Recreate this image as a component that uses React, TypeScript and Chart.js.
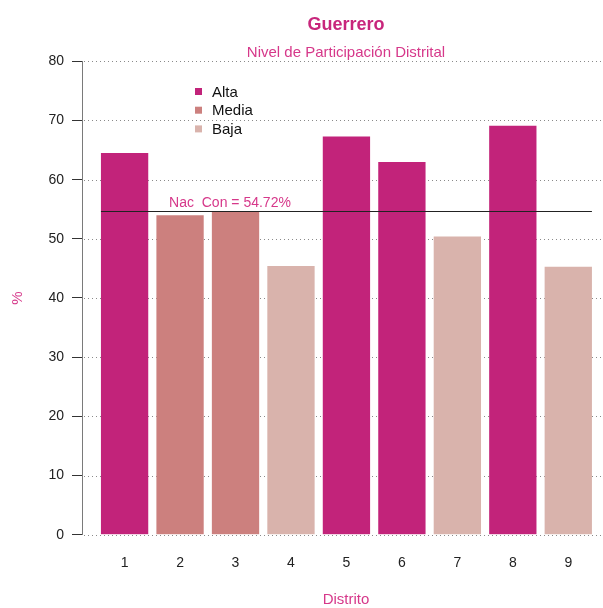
import React, { useEffect, useRef } from "react";
import { Chart, registerables } from "chart.js";

Chart.register(...registerables);

const districts = ["1", "2", "3", "4", "5", "6", "7", "8", "9"];
const participation = [64.5, 54.0, 54.7, 45.4, 67.3, 63.0, 50.4, 69.1, 45.3];
const levels = ["Alta", "Media", "Media", "Baja", "Alta", "Alta", "Baja", "Alta", "Baja"];
const legendLabels = ["Alta", "Media", "Baja"];
const levelColors: Record<string, string> = { Alta: "#C2237A", Media: "#CC807E", Baja: "#D9B3AC" };
const yMin = 0;
const yMax = 80;
const yStep = 10;
const nationalValue = 54.72;
const nationalLabel = "Nac  Con = 54.72%";
const nationalLabelAt = 2.9;
const titleText = "Guerrero";
const subtitleText = "Nivel de Participación Distrital";
const xTitle = "Distrito";
const yTitle = "%";

const FONT = "'Liberation Sans', Arial, Helvetica, sans-serif";
const PINK = "#C8267C";
const PINK2 = "#D6388A";
const BAR_FRAC = 0.853;

export default function App() {
  const ref = useRef<HTMLCanvasElement>(null);

  useEffect(() => {
    const canvas = ref.current;
    if (!canvas) return;

    const decor = {
      id: "decor",
      beforeDatasetsDraw(chart: any) {
        const { ctx, chartArea, scales } = chart;
        const y = scales.y;
        ctx.save();
        ctx.strokeStyle = "#8a8a8a";
        ctx.lineWidth = 1;
        ctx.setLineDash([1, 3]);
        for (let v = yMin; v <= yMax; v += yStep) {
          const py = Math.round(y.getPixelForValue(v)) + 0.5;
          ctx.beginPath();
          ctx.moveTo(chartArea.left + 2, py);
          ctx.lineTo(chart.width, py);
          ctx.stroke();
        }
        ctx.restore();
      },
      afterDatasetsDraw(chart: any) {
        const { ctx, scales } = chart;
        const x = scales.x;
        const y = scales.y;
        const py = y.getPixelForValue(nationalValue);
        const x0 = x.getPixelForValue(1 - BAR_FRAC / 2);
        const x1 = x.getPixelForValue(districts.length + BAR_FRAC / 2);
        ctx.save();
        ctx.strokeStyle = "#222";
        ctx.lineWidth = 1;
        ctx.beginPath();
        ctx.moveTo(x0, Math.round(py) + 0.5);
        ctx.lineTo(x1, Math.round(py) + 0.5);
        ctx.stroke();
        ctx.fillStyle = PINK2;
        ctx.font = `14px ${FONT}`;
        ctx.textAlign = "center";
        ctx.textBaseline = "alphabetic";
        ctx.fillText(nationalLabel, x.getPixelForValue(nationalLabelAt), py - 4);
        ctx.restore();
      },
      afterDraw(chart: any) {
        const { ctx, chartArea } = chart;
        const cx = 346;
        ctx.save();
        ctx.textAlign = "center";
        ctx.textBaseline = "alphabetic";
        ctx.fillStyle = PINK;
        ctx.font = `bold 18px ${FONT}`;
        ctx.fillText(titleText, cx, 29.5);
        ctx.fillStyle = PINK2;
        ctx.font = `15px ${FONT}`;
        ctx.fillText(subtitleText, cx, 57);
        ctx.fillText(xTitle, cx, 604);
        ctx.save();
        ctx.translate(22, (chartArea.top + chartArea.bottom) / 2);
        ctx.rotate(-Math.PI / 2);
        ctx.textBaseline = "alphabetic";
        ctx.fillText(yTitle, 0, 0);
        ctx.restore();
        // legend
        ctx.textAlign = "left";
        ctx.textBaseline = "middle";
        ctx.font = `15px ${FONT}`;
        legendLabels.forEach((lab, i) => {
          const cy = 91.5 + i * 18.7;
          ctx.fillStyle = levelColors[lab];
          ctx.fillRect(195, cy - 3.5, 7, 7);
          ctx.fillStyle = "#111";
          ctx.fillText(lab, 212, cy + 1);
        });
        ctx.restore();
      },
    };

    const chart = new Chart(canvas, {
      type: "bar",
      data: {
        datasets: [
          {
            label: "Participación",
            data: participation.map((v, i) => ({ x: i + 1, y: v })),
            backgroundColor: levels.map((l) => levelColors[l]),
            borderWidth: 0,
            barPercentage: BAR_FRAC,
            categoryPercentage: 1,
          },
        ],
      },
      options: {
        animation: false,
        responsive: false,
        maintainAspectRatio: false,
        layout: { padding: { top: 61.3, bottom: 33.3, left: 0, right: 0 } },
        plugins: {
          legend: { display: false },
          title: { display: false },
          tooltip: { enabled: false },
        },
        scales: {
          x: {
            type: "linear",
            offset: false,
            min: 0.232,
            max: 9.626,
            afterFit(scale: any) {
              scale.height = 40;
            },
            afterBuildTicks(scale: any) {
              scale.ticks = districts.map((_, i) => ({ value: i + 1 }));
            },
            grid: { display: false, drawTicks: false, offset: false },
            border: { display: false },
            ticks: {
              padding: 20,
              color: "#222",
              font: { family: FONT, size: 14 },
              callback: (v: any) => districts[Number(v) - 1] ?? "",
              maxRotation: 0,
              autoSkip: false,
            },
          },
          y: {
            min: yMin,
            max: yMax,
            afterFit(scale: any) {
              scale.width = 82;
            },
            grid: {
              drawOnChartArea: false,
              drawTicks: true,
              tickLength: 10,
              tickColor: "#333",
              tickWidth: 1,
              tickBorderDash: [],
            },
            border: { display: true, color: "#7a7a7a", width: 1 },
            ticks: {
              stepSize: yStep,
              padding: 8,
              color: "#222",
              font: { family: FONT, size: 14 },
            },
          },
        },
      },
      plugins: [decor],
    });

    return () => chart.destroy();
  }, []);

  return (
    <div style={{ position: "fixed", left: 0, top: 0, width: 603, height: 608, background: "#fff" }}>
      <canvas ref={ref} width={603} height={608} style={{ display: "block" }} />
    </div>
  );
}
